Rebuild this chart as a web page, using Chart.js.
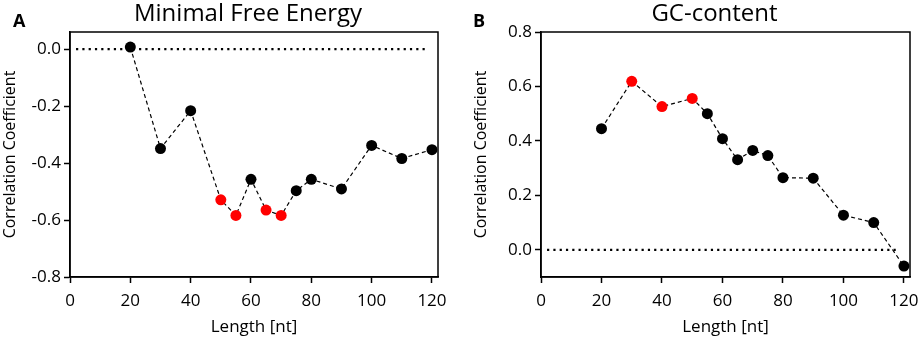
<!DOCTYPE html>
<html>
<head>
<meta charset="utf-8">
<script src="https://cdn.jsdelivr.net/npm/chart.js@4"></script>
<style>
  body { margin: 0; background: #fff; }
  #wrap { position: relative; width: 920px; height: 341px; }
  canvas { position: absolute; top: 0; }
</style>
</head>
<body>
<div id="wrap">
  <canvas id="chartA" width="460" height="341" style="left:0"></canvas>
  <canvas id="chartB" width="460" height="341" style="left:460px"></canvas>
</div>
<script>
// Sequence lengths (nt)
const lengths = [20, 30, 40, 50, 55, 60, 65, 70, 75, 80, 90, 100, 110, 120];

// Correlation coefficients
const mfeValues = [0.007, -0.349, -0.216, -0.529, -0.584, -0.457, -0.565, -0.584, -0.497, -0.457, -0.491, -0.338, -0.384, -0.353];
const gcValues = [0.445, 0.619, 0.526, 0.556, 0.500, 0.408, 0.331, 0.365, 0.346, 0.265, 0.263, 0.127, 0.100, -0.060];

// lengths drawn in red
const mfeHighlight = [50, 55, 65, 70];
const gcHighlight = [30, 40, 50];

// dotted zero reference line
const zeroLineX = [2, 118];
const zeroLineY = [0, 0];

const FONT = "'Open Sans', sans-serif";

// Draws the frame box, panel title and panel letter
const panelPlugin = {
    id: 'panel',
    afterDatasetsDraw(chart, args, opts) {
        const ctx = chart.ctx;
        const area = chart.chartArea;
        ctx.save();
        ctx.strokeStyle = '#000';
        ctx.lineWidth = 1.5;
        ctx.strokeRect(area.left, area.top, area.right - area.left, area.bottom - area.top);
        ctx.fillStyle = '#000';
        ctx.textBaseline = 'alphabetic';
        ctx.textAlign = 'center';
        ctx.font = `24px ${FONT}`;
        ctx.fillText(opts.title, (area.left + area.right) / 2 + opts.titleShift, 21);
        ctx.textAlign = 'left';
        ctx.font = `bold 18px ${FONT}`;
        ctx.fillText(opts.letter, opts.letterX, 27);
        ctx.restore();
    }
};

function makeChart(canvasId, values, highlight, yMin, yMax, yWidth, padLeft, padRight, title, titleShift, letter) {
    const colors = lengths.map(l => highlight.includes(l) ? '#ff0000' : '#000000');
    const points = lengths.map((l, i) => ({ x: l, y: values[i] }));
    const zeroPoints = zeroLineX.map((x, i) => ({ x: x, y: zeroLineY[i] }));

    return new Chart(document.getElementById(canvasId).getContext('2d'), {
        type: 'scatter',
        data: {
            datasets: [
                {
                    data: points,
                    showLine: true,
                    borderColor: '#000',
                    borderWidth: 1.2,
                    borderDash: [4, 3],
                    pointRadius: 5.5,
                    pointBorderWidth: 0,
                    pointBackgroundColor: colors,
                    order: 1
                },
                {
                    data: zeroPoints,
                    showLine: true,
                    borderColor: '#000',
                    borderWidth: 2.2,
                    borderDash: [2.2, 4.1],
                    pointRadius: 0,
                    order: 2
                }
            ]
        },
        options: {
            responsive: false,
            animation: false,
            devicePixelRatio: 1,
            layout: { padding: { top: 32, right: padRight, left: padLeft, bottom: 0 } },
            plugins: {
                legend: { display: false },
                tooltip: { enabled: false },
                panel: { title: title, titleShift: titleShift, letter: letter, letterX: 13 }
            },
            scales: {
                x: {
                    type: 'linear',
                    min: 0,
                    max: 122,
                    afterFit: scale => {
                        scale.height = 64;
                        // let the last tick label overhang the right padding
                        scale.paddingLeft = 0;
                        scale.paddingRight = 0;
                    },
                    ticks: { stepSize: 20, includeBounds: false, color: '#000', font: { family: FONT, size: 17 }, padding: 8, maxRotation: 0 },
                    grid: { drawOnChartArea: false, drawTicks: true, tickLength: 6, tickColor: '#000', tickWidth: 1.5 },
                    border: { color: '#000', width: 1.5 },
                    title: { display: true, text: 'Length [nt]', color: '#000', font: { family: FONT, size: 17 }, padding: { top: 0, bottom: 4 } }
                },
                y: {
                    min: yMin,
                    max: yMax,
                    afterFit: scale => { scale.width = yWidth; },
                    ticks: { stepSize: 0.2, includeBounds: false, color: '#000', font: { family: FONT, size: 17 }, padding: 3,
                        callback: v => v.toFixed(1) },
                    grid: { drawOnChartArea: false, drawTicks: true, tickLength: 6, tickColor: '#000', tickWidth: 1.5 },
                    border: { color: '#000', width: 1.5 },
                    title: { display: true, text: 'Correlation Coefficient', color: '#000', font: { family: FONT, size: 16 }, padding: { top: 1, bottom: 0 } }
                }
            }
        },
        plugins: [panelPlugin]
    });
}

makeChart('chartA', mfeValues, mfeHighlight, -0.8, 0.06, 70, 0, 22, 'Minimal Free Energy', -6, 'A');
makeChart('chartB', gcValues, gcHighlight, -0.1, 0.8, 70, 11, 10, 'GC-content', -11, 'B');
</script>
</body>
</html>
